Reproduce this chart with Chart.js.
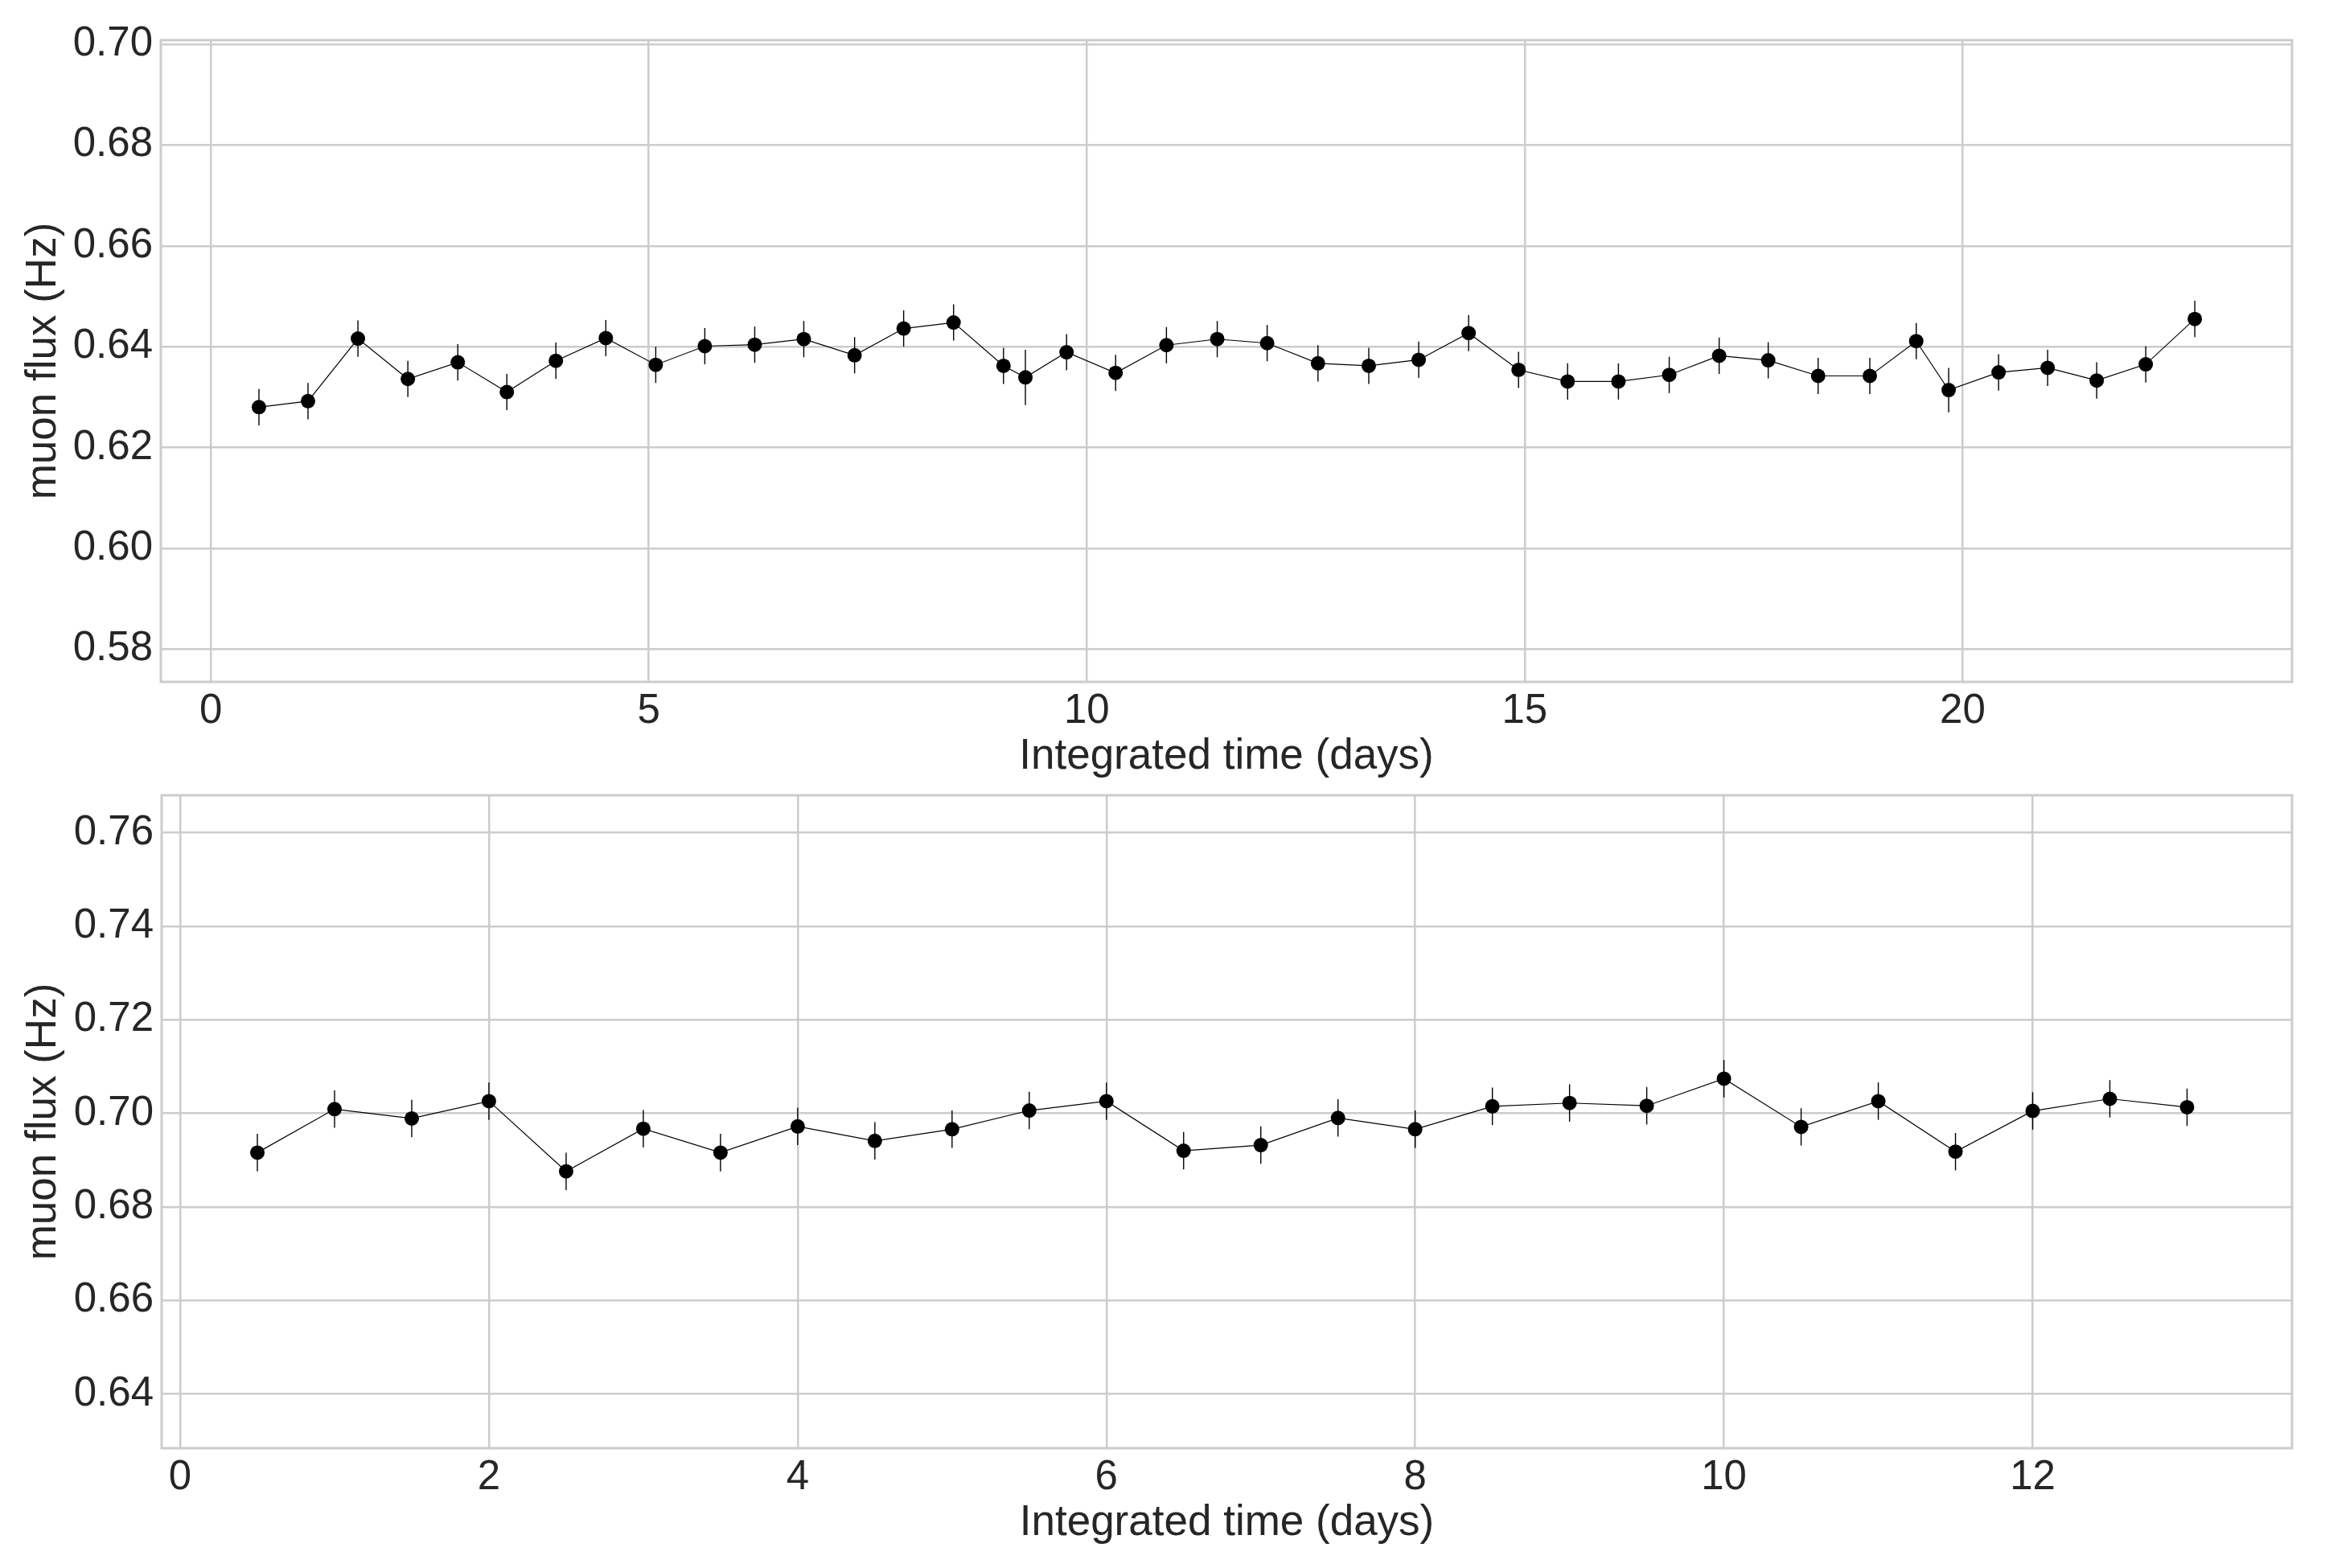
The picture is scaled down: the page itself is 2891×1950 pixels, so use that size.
<!DOCTYPE html>
<html>
<head>
<meta charset="utf-8">
<script src="https://cdn.jsdelivr.net/npm/chart.js@4.4.1/dist/chart.umd.min.js"></script>
<style>
  html, body { margin: 0; padding: 0; background: #fff; }
  canvas { display: block; position: absolute; left: 0; }
  #top { top: 0; }
  #bottom { top: 975px; }
</style>
</head>
<body>
<canvas id="top" width="2891" height="975"></canvas>
<canvas id="bottom" width="2891" height="975"></canvas>
<script>
// run 1 (top panel)
var topTime = [0.55,1.11,1.68,2.25,2.82,3.38,3.94,4.51,5.08,5.64,6.21,6.77,7.35,7.91,8.48,9.05,9.30,9.77,10.33,10.91,11.49,12.06,12.64,13.22,13.79,14.36,14.93,15.49,16.07,16.65,17.22,17.78,18.35,18.94,19.47,19.84,20.41,20.97,21.53,22.09,22.65];
var topFlux = [0.6280,0.6292,0.6416,0.6336,0.6369,0.6310,0.6372,0.6417,0.6364,0.6401,0.6404,0.6415,0.6383,0.6436,0.6448,0.6362,0.6339,0.6389,0.6348,0.6403,0.6415,0.6407,0.6367,0.6362,0.6374,0.6427,0.6354,0.6331,0.6331,0.6344,0.6382,0.6373,0.6342,0.6342,0.6411,0.6314,0.6349,0.6358,0.6333,0.6365,0.6455];
var topErr = [0.0036,0.0036,0.0036,0.0036,0.0036,0.0036,0.0036,0.0036,0.0036,0.0036,0.0036,0.0036,0.0036,0.0036,0.0036,0.0036,0.0055,0.0036,0.0036,0.0036,0.0036,0.0036,0.0036,0.0036,0.0036,0.0036,0.0036,0.0036,0.0036,0.0036,0.0036,0.0036,0.0036,0.0036,0.0036,0.0044,0.0036,0.0036,0.0036,0.0036,0.0036];
var topXTicks = [0,5,10,15,20];
var topYTicks = [0.58,0.60,0.62,0.64,0.66,0.68,0.70];

// run 2 (bottom panel)
var bottomTime = [0.5,1.0,1.5,2.0,2.5,3.0,3.5,4.0,4.5,5.0,5.5,6.0,6.5,7.0,7.5,8.0,8.5,9.0,9.5,10.0,10.5,11.0,11.5,12.0,12.5,13.0];
var bottomFlux = [0.6916,0.7009,0.6989,0.7026,0.6876,0.6967,0.6916,0.6972,0.6941,0.6966,0.7006,0.7026,0.6920,0.6932,0.6990,0.6966,0.7015,0.7022,0.7016,0.7074,0.6971,0.7026,0.6918,0.7005,0.7031,0.7013];
var bottomErr = [0.0040,0.0040,0.0040,0.0040,0.0040,0.0040,0.0040,0.0040,0.0040,0.0040,0.0040,0.0040,0.0040,0.0040,0.0040,0.0040,0.0040,0.0040,0.0040,0.0040,0.0040,0.0040,0.0040,0.0040,0.0040,0.0040];
var bottomXTicks = [0,2,4,6,8,10,12];
var bottomYTicks = [0.64,0.66,0.68,0.70,0.72,0.74,0.76];

var FONT = { family: "'Liberation Sans', Arial, sans-serif", size: 51, lineHeight: 1.2 };
var TITLE_FONT = { family: "'Liberation Sans', Arial, sans-serif", size: 53, lineHeight: 1.2 };
var TXT = '#262626';
var GRID = '#cccccc';

// error bars, drawn under the markers
var errorBars = {
  id: 'errorBars',
  beforeDatasetsDraw: function(chart) {
    var ctx = chart.ctx, xs = chart.scales.x, ys = chart.scales.y;
    var t = chart.options.plugins.errorBars.t;
    var f = chart.options.plugins.errorBars.f;
    var e = chart.options.plugins.errorBars.e;
    ctx.save();
    ctx.strokeStyle = '#000';
    ctx.lineWidth = 1.4;
    for (var i = 0; i < t.length; i++) {
      var px = xs.getPixelForValue(t[i]);
      ctx.beginPath();
      ctx.moveTo(px, ys.getPixelForValue(f[i] - e[i]));
      ctx.lineTo(px, ys.getPixelForValue(f[i] + e[i]));
      ctx.stroke();
    }
    ctx.restore();
  }
};

// grey box round the plot area
var frame = {
  id: 'frame',
  afterDraw: function(chart) {
    var a = chart.chartArea, ctx = chart.ctx;
    ctx.save();
    ctx.strokeStyle = GRID;
    ctx.lineWidth = 3;
    ctx.strokeRect(a.left, a.top, a.right - a.left, a.bottom - a.top);
    ctx.restore();
  }
};

function makeChart(id, t, f, e, xt, yt, xr, yr, box) {
  var pts = t.map(function(v, i) { return { x: v, y: f[i] }; });
  return new Chart(document.getElementById(id), {
    type: 'line',
    data: {
      datasets: [{
        data: pts,
        borderColor: '#000',
        borderWidth: 1.2,
        pointRadius: 9,
        pointHoverRadius: 9,
        pointBackgroundColor: '#000',
        pointBorderWidth: 0,
        tension: 0,
        fill: false
      }]
    },
    options: {
      responsive: false,
      animation: false,
      devicePixelRatio: 1,
      layout: { padding: { top: box.top, right: 2891 - box.right, left: 0, bottom: 0 } },
      plugins: {
        legend: { display: false },
        tooltip: { enabled: false },
        errorBars: { t: t, f: f, e: e }
      },
      scales: {
        x: {
          type: 'linear',
          min: xr[0], max: xr[1],
          afterBuildTicks: function(s) { s.ticks = xt.map(function(v) { return { value: v }; }); },
          afterFit: function(s) { s.height = box.xh; s.paddingLeft = 0; s.paddingRight = 0; },
          grid: { color: GRID, lineWidth: 2.5, drawTicks: false },
          border: { display: false },
          ticks: { color: TXT, font: FONT, padding: 6, maxRotation: 0,
                   callback: function(v) { return String(v); } },
          title: { display: true, text: 'Integrated time (days)', color: TXT, font: TITLE_FONT,
                   padding: { top: 0, bottom: box.xtp } }
        },
        y: {
          type: 'linear',
          min: yr[0], max: yr[1],
          afterBuildTicks: function(s) { s.ticks = yt.map(function(v) { return { value: v }; }); },
          afterFit: function(s) { s.width = box.left; s.paddingTop = 0; s.paddingBottom = 0; },
          grid: { color: GRID, lineWidth: 2.5, drawTicks: false },
          border: { display: false },
          ticks: { color: TXT, font: FONT, padding: 10,
                   callback: function(v) { return v.toFixed(2); } },
          title: { display: true, text: 'muon flux (Hz)', color: TXT, font: TITLE_FONT,
                   padding: { top: 23, bottom: 0 } }
        }
      }
    },
    plugins: [errorBars, frame]
  });
}

makeChart('top', topTime, topFlux, topErr, topXTicks, topYTicks,
  [-0.57, 23.76], [0.5735, 0.7008],
  { top: 50, right: 2850, left: 200, xh: 127, xtp: 2 });
makeChart('bottom', bottomTime, bottomFlux, bottomErr, bottomXTicks, bottomYTicks,
  [-0.12, 13.68], [0.6284, 0.768],
  { top: 14, right: 2850, left: 201, xh: 149, xtp: 24 });
</script>
</body>
</html>
